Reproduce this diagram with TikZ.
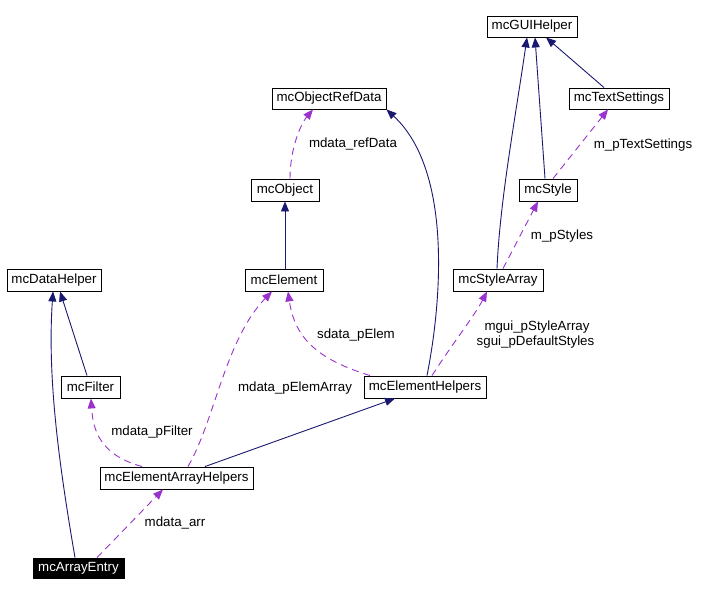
\documentclass[tikz,border=0pt]{standalone}
\usepackage{fontspec}
\setmainfont{Liberation Sans}
\usetikzlibrary{arrows.meta}
\definecolor{navy}{HTML}{191970}
\definecolor{orchid}{HTML}{9A32CD}
\begin{document}
\begin{tikzpicture}[x=1pt,y=-1pt,
  box/.style={draw=black,line width=0.9pt,fill=white,inner sep=0pt,font=\fontsize{13.3}{16}\selectfont},
  inh/.style={draw=navy,line width=0.9pt,-{Triangle[length=10pt,width=8pt]}},
  use/.style={draw=orchid,line width=0.9pt,dash pattern=on 7pt off 5pt,-{Triangle[length=10pt,width=8pt]}},
  lbl/.style={inner sep=0pt,font=\fontsize{13.3}{16}\selectfont}]
\useasboundingbox (0,0) rectangle (717,596);
% nodes
\node[box,minimum width=90pt,minimum height=21pt] (gui) at (532,26.5) {mcGUIHelper};
\node[box,minimum width=100pt,minimum height=21pt] (ts) at (619,98.5) {mcTextSettings};
\node[box,minimum width=58pt,minimum height=22pt] (st) at (548,190) {mcStyle};
\node[box,minimum width=90pt,minimum height=22pt] (sa) at (498,280) {mcStyleArray};
\node[box,minimum width=114pt,minimum height=21pt] (ord) at (329,98.5) {mcObjectRefData};
\node[box,minimum width=68pt,minimum height=22pt] (obj) at (285,190) {mcObject};
\node[box,minimum width=78pt,minimum height=22pt] (el) at (284,280) {mcElement};
\node[box,minimum width=122pt,minimum height=22pt] (eh) at (425,387) {mcElementHelpers};
\node[box,minimum width=94pt,minimum height=22pt] (dh) at (54,280) {mcDataHelper};
\node[box,minimum width=59pt,minimum height=22pt] (fi) at (90.5,387) {mcFilter};
\node[box,minimum width=153pt,minimum height=22pt] (eah) at (176.5,478) {mcElementArrayHelpers};
\node[box,fill=black,text=white,minimum width=91pt,minimum height=20pt] (ae) at (78.5,568) {mcArrayEntry};
% inheritance edges
\draw[inh] ([xshift=-3.5pt]ae.north) .. controls (60,470) and (47,380) .. ([xshift=-1pt]dh.south);
\draw[inh] ([xshift=-3.5pt]fi.north) -- ([xshift=6pt]dh.south);
\draw[inh] ([xshift=1pt]el.north) -- (obj.south);
\draw[inh] ([xshift=2pt]eh.north) .. controls (442,300) and (452,170) .. (ord.south east);
\draw[inh] ([xshift=28.5pt]eah.north) -- ([xshift=-30pt]eh.south);
\draw[inh] ([xshift=-1pt]sa.north) .. controls (500,200) and (515,120) .. ([xshift=-5pt]gui.south);
\draw[inh] ([xshift=-3pt]st.north) -- ([xshift=3pt]gui.south);
\draw[inh] ([xshift=-15pt]ts.north) -- ([xshift=14pt]gui.south);
% usage edges
\draw[use] ([xshift=18.5pt]ae.north) -- ([xshift=-13.5pt]eah.south);
\draw[use] ([xshift=-34.5pt]eah.north) .. controls (100,455) and (93,430) .. ([xshift=0.5pt]fi.south);
\draw[use] ([xshift=11.5pt]eah.north) .. controls (215,420) and (225,340) .. ([xshift=-12pt]el.south);
\draw[use] ([xshift=-55pt]eh.north) .. controls (320,360) and (295,340) .. ([xshift=4pt]el.south);
\draw[use] ([xshift=5pt]obj.north) .. controls (290,150) and (300,125) .. ([xshift=-16pt]ord.south);
\draw[use] ([xshift=7pt]eh.north) .. controls (455,340) and (475,315) .. ([xshift=-11pt]sa.south);
\draw[use] ([xshift=5pt]sa.north) -- ([xshift=-10pt]st.south);
\draw[use] ([xshift=5pt]st.north) -- ([xshift=-11pt]ts.south);
% labels
\node[lbl] (l1) at (353,144) {mdata\_refData};
\node[lbl] (l2) at (356,335) {sdata\_pElem};
\node[lbl] (l3) at (295,388) {mdata\_pElemArray};
\node[lbl] (l4) at (152,432) {mdata\_pFilter};
\node[lbl] (l5) at (175,523) {mdata\_arr};
\node[lbl] (l6) at (537,327) {mgui\_pStyleArray};
\node[lbl] (l7) at (535.5,342) {sgui\_pDefaultStyles};
\node[lbl] (l8) at (562,236) {m\_pStyles};
\node[lbl] (l9) at (643,145) {m\_pTextSettings};
\end{tikzpicture}
\end{document}
